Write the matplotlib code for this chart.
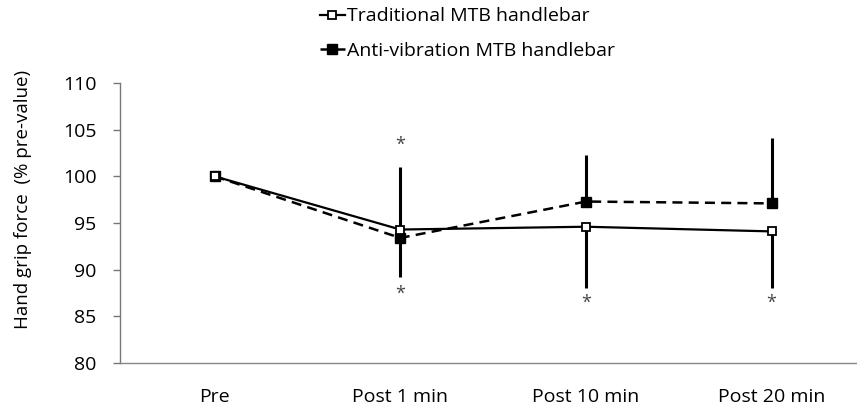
import matplotlib.pyplot as plt
import numpy as np

plt.rcParams['font.family'] = ['Open Sans', 'DejaVu Sans']

times = ['Pre', 'Post 1 min', 'Post 10 min', 'Post 20 min']
traditional = [100.0, 94.3, 94.6, 94.1]
anti_vibration = [100.0, 93.4, 97.3, 97.1]
# error bars: anti-vibration upward, traditional downward
anti_err_up = [0.0, 7.6, 5.0, 7.0]
trad_err_down = [0.0, 5.1, 6.6, 6.1]
# significance marks (label, y position)
marks_above = [('', 0), ('*', 103.4), ('', 0), ('', 0)]
marks_below = [('', 0), ('*', 87.4), ('*', 86.4), ('*', 86.4)]

x = np.arange(len(times))

fig = plt.figure(figsize=(8.57, 4.12), dpi=100)
ax = fig.add_axes([120 / 857, 49 / 412, 737 / 857, 280 / 412])

ax.errorbar(x, anti_vibration, yerr=[np.zeros(len(x)), anti_err_up],
            fmt='none', ecolor='black', elinewidth=2.2, capsize=0, zorder=2)
ax.errorbar(x, traditional, yerr=[trad_err_down, np.zeros(len(x))],
            fmt='none', ecolor='black', elinewidth=2.2, capsize=0, zorder=2)

ax.plot(x, traditional, color='black', linewidth=1.6, marker='s',
        markersize=6, markerfacecolor='white', markeredgecolor='black',
        markeredgewidth=1.3, label='Traditional MTB handlebar', zorder=4)
ax.plot(x, anti_vibration, color='black', linewidth=1.8, linestyle=(0, (4, 2.5)),
        marker='s', markersize=7, markerfacecolor='black', markeredgecolor='black',
        label='Anti-vibration MTB handlebar', zorder=3)

for i, (lab, y) in enumerate(marks_above):
    if lab:
        ax.text(x[i], y, lab, ha='center', va='center', fontsize=13, color='#444444')
for i, (lab, y) in enumerate(marks_below):
    if lab:
        ax.text(x[i], y, lab, ha='center', va='center', fontsize=13, color='#444444')

ax.set_xlim(-0.51, 3.46)
ax.set_ylim(80, 110)
ax.set_yticks(np.arange(80, 111, 5))
ax.set_xticks(x)
ax.set_xticklabels(times, fontsize=14)
ax.tick_params(axis='x', length=0, pad=18)
ax.tick_params(axis='y', labelsize=14, length=5, width=1, color='#777777', direction='out', pad=12)
ax.set_ylabel('Hand grip force  (% pre-value)', fontsize=13.5)
ax.yaxis.set_label_coords(-0.12, 0.585)

for side in ['top', 'right']:
    ax.spines[side].set_visible(False)
ax.spines['left'].set_color('#777777')
ax.spines['bottom'].set_color('#888888')
ax.spines['left'].set_linewidth(1)
ax.spines['bottom'].set_linewidth(1)

leg = fig.legend(loc='upper left', bbox_to_anchor=(306 / 857, 1.015), frameon=False,
                 fontsize=14, handlelength=1.3, handletextpad=0.1, labelspacing=0.85,
                 borderaxespad=0.3)

fig.savefig('out.png', dpi=100)
